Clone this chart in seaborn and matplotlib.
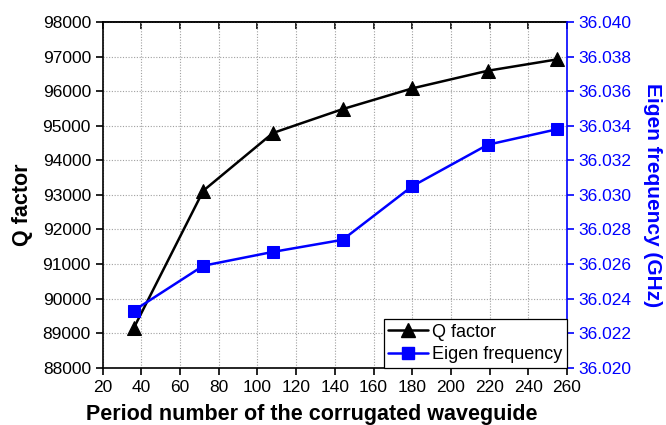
import matplotlib
matplotlib.use("Agg")
import matplotlib.pyplot as plt
import seaborn as sns
import pandas as pd
from matplotlib.ticker import MultipleLocator, FormatStrFormatter
from matplotlib.lines import Line2D

# Period number of the corrugated waveguide
periods = [36, 72, 108, 144, 180, 219, 255]
# Quality factor for each period count
q_factor = [89140, 93120, 94790, 95480, 96080, 96590, 96920]
# Eigen frequency (GHz) for each period count
eigen_freq = [36.0233, 36.0259, 36.0267, 36.0274, 36.0305, 36.0329, 36.0338]

df = pd.DataFrame({"period": periods, "q": q_factor, "freq": eigen_freq})

sns.set_style("white")
plt.rcParams["font.family"] = ["Liberation Sans", "DejaVu Sans"]
plt.rcParams["text.color"] = "black"
plt.rcParams["axes.labelcolor"] = "black"
plt.rcParams["xtick.color"] = "black"
plt.rcParams["ytick.color"] = "black"

fig = plt.figure(figsize=(6.66, 4.25), dpi=100)
ax = fig.add_axes([0.1542, 0.1348, 0.6972, 0.8134])
ax2 = ax.twinx()

blue = (0, 0, 1)
lw = 1.8

sns.lineplot(data=df, x="period", y="q", ax=ax, color="black", marker="^",
             markersize=9.5, linewidth=lw, markeredgecolor="black", legend=False)
sns.lineplot(data=df, x="period", y="freq", ax=ax2, color=blue, marker="s",
             markersize=8, linewidth=lw, markeredgecolor=blue, legend=False)

ax.set_xlim(20, 260)
ax.set_ylim(88000, 98000)
ax2.set_ylim(36.020, 36.040)

ax.xaxis.set_major_locator(MultipleLocator(20))
ax.yaxis.set_major_locator(MultipleLocator(1000))
ax2.yaxis.set_major_locator(MultipleLocator(0.002))
ax2.yaxis.set_major_formatter(FormatStrFormatter("%.3f"))

ax.grid(True, which="major", linestyle=(0, (1, 1.5)), color="#a0a0a0", linewidth=0.8)
ax.set_axisbelow(True)

for s in ["left", "bottom", "top"]:
    ax.spines[s].set_color("black")
    ax.spines[s].set_linewidth(1.2)
ax.spines["right"].set_visible(False)
for s in ["left", "bottom", "top"]:
    ax2.spines[s].set_visible(False)
ax2.spines["right"].set_color(blue)
ax2.spines["right"].set_linewidth(1.2)

ax.tick_params(axis="both", which="major", direction="out", length=5, width=1.2,
               labelsize=12.5, colors="black", bottom=True, left=True, top=False)
ax2.tick_params(axis="y", direction="out", length=5, width=1.2, labelsize=12.5,
                colors=blue, right=True)

# Inward ticks along the top frame
top = ax.secondary_xaxis("top")
top.xaxis.set_major_locator(MultipleLocator(20))
top.tick_params(direction="in", length=5, width=1.2, labeltop=False, colors="black")
top.spines["top"].set_linewidth(1.2)

ax.set_xlabel("Period number of the corrugated waveguide", fontsize=15.5,
              fontweight="bold", color="black")
ax.xaxis.set_label_coords(0.45, -0.106)
ax.set_ylabel("Q factor", fontsize=15.5, fontweight="bold", color="black")
ax.yaxis.set_label_coords(-0.150, 0.47)
ax2.set_ylabel("Eigen frequency (GHz)", fontsize=15, fontweight="bold",
               color=blue, labelpad=8, rotation=270, va="bottom")

handles = [
    Line2D([], [], color="black", marker="^", markersize=9.5, linewidth=lw),
    Line2D([], [], color=blue, marker="s", markersize=8, linewidth=lw),
]
leg = ax2.legend(handles, ["Q factor", "Eigen frequency"], loc="lower right",
                 bbox_to_anchor=(1.0, 0.0), borderaxespad=0, fontsize=13,
                 frameon=True, fancybox=False, framealpha=1, edgecolor="black",
                 handlelength=2.2, handletextpad=0.25, borderpad=0.25,
                 labelspacing=0.3)
leg.get_frame().set_linewidth(0.9)

fig.savefig("out.png", dpi=100)
